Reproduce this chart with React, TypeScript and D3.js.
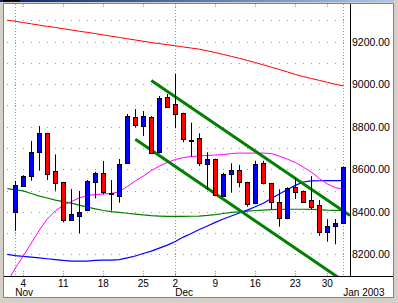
import React from "react";
import * as d3 from "d3";

// Trading dates (first entry only carries indicator values)
const dates = ["10/31","11/01","11/04","11/05","11/06","11/07","11/08","11/11","11/12","11/13","11/14","11/15","11/18","11/19","11/20","11/21","11/22","11/25","11/26","11/27","11/29","12/02","12/03","12/04","12/05","12/06","12/09","12/10","12/11","12/12","12/13","12/16","12/17","12/18","12/19","12/20","12/23","12/24","12/26","12/27","12/30","12/31","01/02"];

// Candles (from 11/01)
const candleDates = dates.slice(1);
const open  = [8399,8523,8570,8680,8769,8590,8539,8361,8382,8408,8539,8581,8487,8474,8628,8844,8805,8847,8680,8938,8906,8863,8738,8746,8623,8647,8476,8576,8596,8539,8440,8628,8534,8445,8369,8515,8498,8455,8432,8306,8334,8346];
const high  = [8545,8572,8733,8803,8771,8670,8541,8507,8498,8550,8588,8639,8549,8648,8860,8883,8874,8850,8945,8954,9048,8866,8819,8769,8680,8650,8584,8628,8620,8541,8640,8640,8536,8506,8515,8560,8500,8568,8455,8366,8366,8612];
const low   = [8310,8518,8546,8593,8549,8499,8350,8358,8299,8406,8463,8482,8405,8443,8625,8797,8756,8672,8675,8890,8793,8727,8659,8615,8502,8473,8472,8490,8515,8424,8436,8529,8412,8330,8365,8460,8443,8412,8287,8259,8247,8342];
const close = [8526,8568,8680,8769,8576,8534,8361,8388,8397,8545,8581,8492,8487,8625,8850,8808,8852,8678,8934,8894,8858,8742,8738,8628,8648,8479,8578,8596,8539,8435,8625,8534,8447,8369,8510,8494,8447,8424,8303,8333,8346,8609];

// Moving averages (aligned with dates)
const maRed = [9301,9296,9290,9284,9278,9272,9267,9261,9255,9249,9244,9238,9232,9226,9220,9214,9208,9202,9196,9191,9186,9181,9175,9170,9165,9157,9149,9140,9131,9122,9112,9102,9091,9080,9069,9058,9046,9036,9027,9018,9009,9000,8992];
const maGreen = [8509,8503,8498,8486,8474,8465,8455,8448,8441,8431,8422,8414,8406,8401,8397,8393,8389,8385,8382,8380,8378,8378,8378,8379,8380,8383,8387,8392,8397,8400,8403,8406,8408,8410,8411,8412,8412,8412,8411,8410,8408,8407,8406];
const maMagenta = [8070,8135,8192,8253,8314,8366,8404,8430,8448,8465,8477,8481,8484,8486,8495,8519,8545,8568,8594,8615,8632,8646,8655,8660,8662,8665,8667,8669,8674,8676,8676,8676,8676,8674,8662,8648,8632,8610,8587,8557,8531,8514,8506];
const maBlue = [8200,8194,8190,8187,8183,8179,8175,8171,8168,8168,8168,8171,8173,8173,8175,8183,8192,8204,8215,8229,8243,8260,8281,8298,8317,8333,8350,8366,8380,8394,8408,8424,8440,8462,8484,8505,8524,8540,8545,8546,8547,8547,8547];

// Trend channel anchors
const upperTrendDates = ["11/26","12/12"];
const upperTrendPrices = [9017, 8736];
const lowerTrendDates = ["11/22","12/12"];
const lowerTrendPrices = [8741, 8408];

// Axis labels
const yTicks = [8200, 8400, 8600, 8800, 9000, 9200];
const gridLevels = [8200,8300,8400,8500,8600,8700,8800,8900,9000,9100,9200,9300];
const weekDates = ["11/04","11/11","11/18","11/25","12/02","12/09","12/16","12/23","12/30"];
const weekLabels = ["4","11","18","25","2","9","16","23","30"];
const monthDates = ["11/01","12/02","01/02"];
const monthLabels = ["Nov","Dec","Jan 2003"];

export default function App() {
  const W = 398, H = 303;
  const P = { left: 4, right: 350, top: 4, bottom: 276 };
  const x = d3.scalePoint<string>().domain(dates).range([7.3, 343.3]);
  const y = d3.scaleLinear().domain([8200, 9200]).range([254.3, 41.7]);
  const cx = (d: string) => Math.round(x(d)!) + 0.5;

  const line = d3.line<number>().x((_, i) => x(dates[i])!).y((d) => y(d));

  const trend = (ds: string[], ps: number[]) => {
    const x0 = x(ds[0])!, y0 = y(ps[0]);
    const x1 = x(ds[1])!, y1 = y(ps[1]);
    const slope = (y1 - y0) / (x1 - x0);
    const xe = P.right;
    return { x1: x0, y1: y0, x2: xe, y2: y0 + slope * (xe - x0) };
  };
  const up = trend(upperTrendDates, upperTrendPrices);
  const lo = trend(lowerTrendDates, lowerTrendPrices);

  const font = "'Liberation Sans', Arial, sans-serif";
  const grid = "#9a9a9a";

  return (
    <svg width={W} height={H} style={{ position: "fixed", left: 0, top: 0 }} fontFamily={font}>
      <defs>
        <linearGradient id="tb" x1="0" x2="1" y1="0" y2="0">
          <stop offset="0" stopColor="#0a246a" />
          <stop offset="1" stopColor="#a6caf0" />
        </linearGradient>
        <clipPath id="plotclip">
          <rect x={P.left} y={P.top} width={P.right - P.left} height={P.bottom - P.top} />
        </clipPath>
      </defs>
      <rect x={0} y={0} width={W} height={H} fill="#d4d0c8" />
      <rect x={0} y={0} width={394} height={2} fill="url(#tb)" />
      <rect x={3} y={0} width={17} height={1.5} fill="#000" />
      <rect x={4} y={4} width={389} height={293} fill="#fff" />
      <line x1={3.5} y1={3.5} x2={393.5} y2={3.5} stroke="#808080" />
      <line x1={3.5} y1={3.5} x2={3.5} y2={297.5} stroke="#808080" />
      <line x1={3.5} y1={297.5} x2={393.5} y2={297.5} stroke="#808080" />
      <line x1={393.5} y1={3.5} x2={393.5} y2={297.5} stroke="#808080" />

      {/* horizontal dotted grid */}
      {gridLevels.map((v) => (
        <line key={"g" + v} x1={7} x2={345} y1={Math.round(y(v)) + 0.5} y2={Math.round(y(v)) + 0.5}
          stroke={grid} strokeDasharray="1 7" shapeRendering="crispEdges" />
      ))}
      {/* month gridlines */}
      {monthDates.map((d) => (
        <line key={"m" + d} x1={cx(d)} x2={cx(d)} y1={P.top} y2={P.bottom} stroke={grid} strokeDasharray="1 2" shapeRendering="crispEdges" />
      ))}
      {/* week ticks top and bottom */}
      {weekDates.map((d) => (
        <g key={"w" + d}>
          <line x1={cx(d)} x2={cx(d)} y1={P.top} y2={P.top + 4} stroke={grid} strokeDasharray="1 1" shapeRendering="crispEdges" />
          <line x1={cx(d)} x2={cx(d)} y1={P.bottom - 5} y2={P.bottom} stroke={grid} strokeDasharray="1 1" shapeRendering="crispEdges" />
        </g>
      ))}

      <g clipPath="url(#plotclip)">
        <path d={line(maRed)!} fill="none" stroke="#ff0000" strokeWidth={1} />
        <path d={line(maGreen)!} fill="none" stroke="#008000" strokeWidth={1.2} />
        <path d={line(maBlue)!} fill="none" stroke="#0000ff" strokeWidth={1.2} />
        <path d={line(maMagenta)!} fill="none" stroke="#ff00ff" strokeWidth={1} />
        <line {...up} stroke="#008000" strokeWidth={3} />
        <line {...lo} stroke="#008000" strokeWidth={3} />

        {candleDates.map((d, i) => {
          const c = cx(d);
          const o = open[i], cl = close[i];
          const top = Math.round(y(Math.max(o, cl))) + 0.5;
          const bot = Math.round(y(Math.min(o, cl))) + 0.5;
          const fill = cl > o ? "#0000ff" : cl < o ? "#ff0000" : "#000";
          return (
            <g key={"c" + d}>
              <line x1={c} x2={c} y1={y(high[i])} y2={y(low[i])} stroke="#000" strokeWidth={1} />
              <rect x={c - 2} y={top} width={4} height={Math.max(bot - top, 1)} fill={fill} stroke="#000" strokeWidth={1} />
            </g>
          );
        })}
      </g>

      {/* axes */}
      <line x1={P.right + 0.5} x2={P.right + 0.5} y1={P.top} y2={P.bottom} stroke="#000" />
      <line x1={P.left} x2={393} y1={P.bottom + 0.5} y2={P.bottom + 0.5} stroke="#000" />

      {yTicks.map((v) => (
        <text key={"yt" + v} x={352} y={y(v) + 3.8} fontSize={10.5} fill="#000">{v.toFixed(2)}</text>
      ))}
      {weekDates.map((d, i) => (
        <text key={"wl" + d} x={x(d)!} y={286.5} fontSize={10} textAnchor="middle" fill="#000">{weekLabels[i]}</text>
      ))}
      {monthDates.map((d, i) => (
        <text key={"ml" + d} x={x(d)!} y={296} fontSize={10} fill="#000">{monthLabels[i]}</text>
      ))}
    </svg>
  );
}
